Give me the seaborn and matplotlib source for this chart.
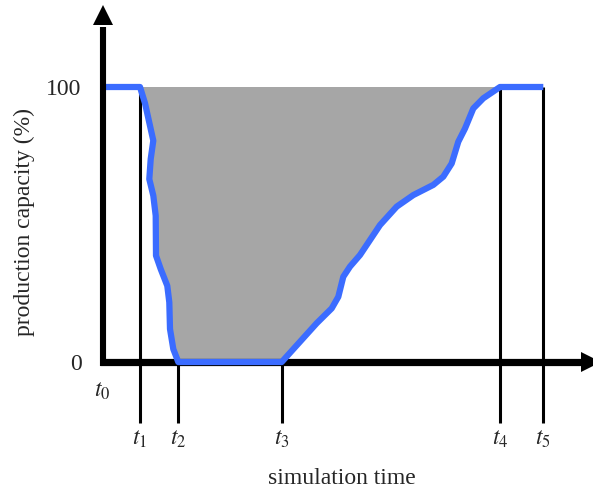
import matplotlib
matplotlib.use("Agg")
import matplotlib.pyplot as plt
import seaborn as sns
import pandas as pd

# ---- data ----
curve_time = [0, 37, 42, 47, 50.3, 47.7, 46.3, 50.3, 52.7, 53, 57.7, 64.3, 66.3, 67, 70.3, 75.3,
              178.7, 213.7, 228.7, 235.3, 240.3, 247, 257, 277, 293.7, 310.3, 330.3, 340.3,
              348.7, 355.3, 362, 370.3, 380.3, 397, 440.3]
curve_capacity = [100, 100, 94.1, 85.9, 80.5, 73.8, 66.5, 60.5, 53.2, 38.7, 33.8, 27.7, 21.7, 12, 4.7, 0,
                  0, 14.1, 19.5, 23.7, 31, 34.7, 38.9, 49.8, 56.5, 60.7, 64.4, 67.4,
                  72.2, 80.1, 84.9, 92.2, 95.9, 100, 100]
event_times = [37, 75.3, 178.7, 397, 440.3]
event_tops = [100, 0, 0, 100, 100]
event_labels = [r"$t_1$", r"$t_2$", r"$t_3$", r"$t_4$", r"$t_5$"]
ytick_values = [0, 100]
ytick_labels = ["0", "100"]

sns.set_theme(style="white")
plt.rcParams["font.family"] = ["Liberation Serif", "DejaVu Serif"]
plt.rcParams["mathtext.fontset"] = "stix"

W, H = 593, 491
fig = plt.figure(figsize=(W / 100, H / 100), dpi=100)
# axes: x=0 at px 103, y=0 at px 362, 2.75 px per %
x0, y0 = 103, 362
xmax = 487
ymax = 130
ax = fig.add_axes([x0 / W, (H - y0) / H, xmax / W, ymax * 2.75 / H])
ax.set_xlim(0, xmax)
ax.set_ylim(0, ymax)
ax.set_axis_off()

blue = "#3B6CFF"
df = pd.DataFrame({"time": curve_time, "capacity": curve_capacity})

# gray loss area between t1 and t4
i1 = curve_time.index(event_times[0])
i4 = curve_time.index(event_times[3])
ax.fill(curve_time[i1:i4 + 1], curve_capacity[i1:i4 + 1], color="#A6A6A6", lw=0, zorder=1)

# event lines
ybot = -22.2
for t, top in zip(event_times, event_tops):
    ax.plot([t, t], [top, ybot], color="black", lw=2.2, clip_on=False, zorder=2,
            solid_capstyle="butt")

# x-axis
ax.plot([-3, 480], [0, 0], color="black", lw=5.2, clip_on=False, zorder=3, solid_capstyle="butt")
ax.plot([488], [0], marker=">", markersize=15, color="black", mew=0, clip_on=False, zorder=3)

# curve
sns.lineplot(data=df, x="time", y="capacity", sort=False, estimator=None, color=blue,
             lw=4.5, ax=ax, zorder=4)
for line in ax.lines[-1:]:
    line.set_clip_on(False)
    line.set_solid_capstyle("butt")
    line.set_solid_joinstyle("round")

# y-axis
ax.plot([0, 0], [-1.3, 122], color="black", lw=4.4, clip_on=False, zorder=5, solid_capstyle="butt")
ax.plot([0], [126.2], marker="^", markersize=14.4, color="black", mew=0, clip_on=False, zorder=5)

fs = 17
for v, lab in zip(ytick_values, ytick_labels):
    ax.text(-21.5, v, lab, ha="right", va="center_baseline", fontsize=fs)

for t, lab in zip(event_times, event_labels):
    ax.text(t, -30.2, lab, ha="center", va="baseline", fontsize=fs)
ax.text(-1, -12.7, r"$t_0$", ha="center", va="baseline", fontsize=fs)

ax.text(239, -44.4, "simulation time", ha="center", va="baseline", fontsize=fs)
ax.text(-79, 50.9, "production capacity (%)", ha="center", va="center", rotation=90, fontsize=fs)

if ax.get_legend() is not None:
    ax.get_legend().remove()

fig.savefig("out.png", dpi=100)
